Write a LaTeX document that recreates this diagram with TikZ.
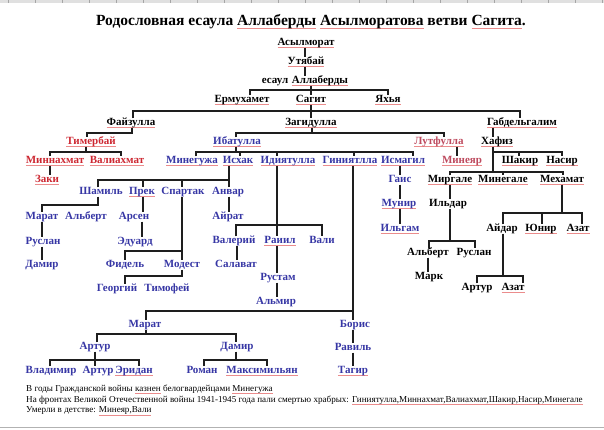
\documentclass[tikz,border=0pt]{standalone}
\usepackage{fontspec}
\setmainfont{Liberation Serif}
\definecolor{nblue}{RGB}{55,55,165}
\definecolor{nred}{RGB}{205,40,50}
\definecolor{npink}{RGB}{190,75,95}
\definecolor{spell}{RGB}{235,140,140}
\definecolor{lineblk}{RGB}{30,30,30}
\newcommand\sq[1]{\setbox0\hbox{#1}\rlap{\color{spell}\rule[-2.4pt]{\wd0}{0.5pt}}\box0\relax}
\tikzset{
  nm/.style={font=\bfseries\fontsize{11}{12}\selectfont, inner sep=0pt, text height=7pt, text depth=2pt},
  bk/.style={nm, text=black},
  bl/.style={nm, text=nblue},
  rd/.style={nm, text=nred},
  pk/.style={nm, text=npink},
  ln/.style={draw=lineblk, line width=1.3pt},
  foot/.style={anchor=west, inner sep=0pt, font=\fontsize{9.1}{10}\selectfont},
}
\begin{document}
\begin{tikzpicture}[x=1pt,y=-1pt]
\fill[white] (0,0) rectangle (604,429);
\useasboundingbox (0,0) rectangle (604,429);
% frame bits
\fill[black!12] (0,0) rectangle (604,3);
\foreach \i in {0,...,22} \draw[black!35] (27*\i+8,0) -- ++(0,3);
\draw[black!30, line width=1pt] (0,427.5) -- (604,427.5);

% title
\node[font=\bfseries\fontsize{15.5}{18}\selectfont, inner sep=0pt] (title) at (311,22)
  {Родословная есаула \sq{Аллаберды} \sq{Асылморатова} ветви \sq{Сагита}.};

% black upper nodes
\node[bk] (asy) at (306,43) {\sq{Асылморат}};
\node[bk] (uty) at (306,62) {\sq{Утябай}};
\node[bk] (esa) at (275,81) {есаул};
\node[bk] (all) at (320,81) {\sq{Аллаберды}};
\node[bk] (erm) at (242,100) {\sq{Ермухамет}};
\node[bk] (sag) at (311,100) {\sq{Сагит}};
\node[bk] (yah) at (388,100) {\sq{Яхья}};
\node[bk] (fai) at (131,123) {\sq{Файзулла}};
\node[bk] (zag) at (311,123) {\sq{Загидулла}};
\node[bk] (gab) at (522,123) {\sq{Габдельгалим}};
% red
\node[rd] (tim) at (91,142) {\sq{Тимербай}};
\node[rd] (min) at (55,161) {\sq{Миннахмат}};
\node[rd] (val) at (117,161) {\sq{Валиахмат}};
\node[rd] (zak) at (47,180) {\sq{Заки}};
% pink
\node[pk] (lut) at (439,142) {\sq{Лутфулла}};
\node[pk] (mny) at (462,161) {\sq{Минеяр}};
% black right
\node[bk] (haf) at (497,142) {\sq{Хафиз}};
\node[bk] (sha) at (520,161) {\sq{Шакир}};
\node[bk] (nas) at (562,161) {\sq{Насир}};
\node[bk] (mrg) at (450,180) {\sq{Миргале}};
\node[bk] (mng) at (503,180) {\sq{Минегале}};
\node[bk] (meh) at (562,180) {\sq{Мехамат}};
\node[bk] (ild) at (448,204) {Ильдар};
\node[bk] (alb2) at (428,253) {Альберт};
\node[bk] (rus2) at (474,253) {Руслан};
\node[bk] (mar2) at (429,277) {Марк};
\node[bk] (ayd) at (502,229) {Айдар};
\node[bk] (yun) at (541,229) {\sq{Юнир}};
\node[bk] (aza) at (578,229) {\sq{Азат}};
\node[bk] (art2) at (477,288) {Артур};
\node[bk] (aza2) at (513,288) {\sq{Азат}};
% blue
\node[bl] (iba) at (237,142) {\sq{Ибатулла}};
\node[bl] (mgz) at (192,161) {\sq{Минегужа}};
\node[bl] (isx) at (238,161) {\sq{Исхак}};
\node[bl] (idi) at (288,161) {\sq{Идиятулла}};
\node[bl] (gin) at (350,161) {\sq{Гиниятлла}};
\node[bl] (ism) at (403,161) {\sq{Исмагил}};
\node[bl] (gai) at (400,180) {Гаис};
\node[bl] (mun) at (399,204) {\sq{Мунир}};
\node[bl] (ilg) at (400,229) {\sq{Ильгам}};
\node[bl] (sam) at (101,192) {Шамиль};
\node[bl] (pre) at (142,192) {\sq{Прек}};
\node[bl] (spa) at (183,192) {Спартак};
\node[bl] (anv) at (228,192) {Анвар};
\node[bl] (mar) at (42,217) {Марат};
\node[bl] (alb) at (86,217) {Альберт};
\node[bl] (ars) at (134,217) {Арсен};
\node[bl] (ayr) at (228,217) {Айрат};
\node[bl] (rus) at (43,242) {Руслан};
\node[bl] (edu) at (135,242) {Эдуард};
\node[bl] (dam) at (42,265) {Дамир};
\node[bl] (fid) at (125,265) {Фидель};
\node[bl] (mod) at (182,265) {Модест};
\node[bl] (geo) at (117,289) {Георгий};
\node[bl] (tmf) at (167,289) {Тимофей};
\node[bl] (vlr) at (234,241) {Валерий};
\node[bl] (rai) at (280,241) {\sq{Раиил}};
\node[bl] (vli) at (322,241) {Вали};
\node[bl] (sal) at (236,265) {Салават};
\node[bl] (rst) at (278,278) {Рустам};
\node[bl] (alm) at (276,302) {Альмир};
\node[bl] (mrt) at (145,325) {Марат};
\node[bl] (bor) at (355,325) {Борис};
\node[bl] (art) at (95,347) {Артур};
\node[bl] (dmr) at (237,347) {Дамир};
\node[bl] (rav) at (353,348) {Равиль};
\node[bl] (vla) at (51,371) {Владимир};
\node[bl] (ar3) at (98,371) {Артур};
\node[bl] (eri) at (134,371) {\sq{Эридан}};
\node[bl] (rom) at (202,371) {Роман};
\node[bl] (max) at (262,371) {\sq{Максимильян}};
\node[bl] (tag) at (353,371) {\sq{Тагир}};

% connectors
\draw[ln] (asy.south -| 305,0) -- (uty.north -| 305,0);
\draw[ln] (uty.south -| 305,0) -- (all.north -| 305,0);
\draw[ln] (all.south -| 311,0) -- (sag.north -| 311,0);
\draw[ln] (erm.north -| 250,0) -- (250,90) -- (388,90) -- (yah.north -| 388,0);
\draw[ln] (sag.south -| 311,0) -- (zag.north -| 311,0);
\draw[ln] (fai.north -| 133,0) -- (133,111) -- (520,111) -- (gab.north -| 520,0);
\draw[ln] (fai.south -| 132,0) -- (132,133) -- (87,133) -- (tim.north -| 87,0);
\draw[ln] (tim.south -| 86,0) -- (86,152);
\draw[ln] (min.north -| 50,0) -- (50,152) -- (121,152) -- (val.north -| 121,0);
\draw[ln] (min.south -| 50,0) -- (zak.north -| 50,0);
\draw[ln] (zag.south -| 312,0) -- (312,133);
\draw[ln] (iba.north -| 236,0) -- (236,133) -- (444,133) -- (lut.north -| 444,0);
\draw[ln] (iba.south -| 236,0) -- (236,152);
\draw[ln] (mgz.north -| 196,0) -- (196,152) -- (413,152) -- (ism.north -| 413,0);
\draw[ln] (240,152) -- (isx.north -| 240,0);
\draw[ln] (277,152) -- (idi.north -| 277,0);
\draw[ln] (354,152) -- (gin.north -| 354,0);
\draw[ln] (isx.south -| 229,0) -- (229,180);
\draw[ln] (sam.north -| 98,0) -- (98,180) -- (229,180) -- (anv.north -| 229,0);
\draw[ln] (143,180) -- (pre.north -| 143,0);
\draw[ln] (182,180) -- (spa.north -| 182,0);
\draw[ln] (sam.south -| 98,0) -- (98,205) -- (42,205) -- (mar.north -| 42,0);
\draw[ln] (mar.south -| 42,0) -- (rus.north -| 42,0);
\draw[ln] (rus.south -| 42,0) -- (dam.north -| 42,0);
\draw[ln] (pre.south -| 143,0) -- (ars.north -| 143,0);
\draw[ln] (ars.south -| 142,0) -- (edu.north -| 142,0);
\draw[ln] (spa.south -| 182,0) -- (mod.north -| 182,0);
\draw[ln] (182,251) -- (125,251) -- (fid.north -| 125,0);
\draw[ln] (mod.south -| 182,0) -- (182,276) -- (125,276) -- (geo.north -| 125,0);
\draw[ln] (anv.south -| 229,0) -- (ayr.north -| 229,0);
\draw[ln] (idi.south -| 277,0) -- (rai.north -| 277,0);
\draw[ln] (vlr.north -| 236,0) -- (236,225) -- (322,225) -- (vli.north -| 322,0);
\draw[ln] (vlr.south -| 237,0) -- (sal.north -| 237,0);
\draw[ln] (rai.south -| 277,0) -- (rst.north -| 277,0);
\draw[ln] (rst.south -| 277,0) -- (alm.north -| 277,0);
\draw[ln] (gin.south -| 353,0) -- (bor.north -| 353,0);
\draw[ln] (353,311) -- (146,311) -- (mrt.north -| 146,0);
\draw[ln] (bor.south -| 353,0) -- (rav.north -| 353,0);
\draw[ln] (rav.south -| 353,0) -- (tag.north -| 353,0);
\draw[ln] (mrt.south -| 146,0) -- (146,334);
\draw[ln] (art.north -| 97,0) -- (97,334) -- (236,334) -- (dmr.north -| 236,0);
\draw[ln] (art.south -| 95,0) -- (ar3.north -| 95,0);
\draw[ln] (vla.north -| 50,0) -- (50,360) -- (139,360) -- (eri.north -| 139,0);
\draw[ln] (dmr.south -| 236,0) -- (236,360);
\draw[ln] (rom.north -| 204,0) -- (204,360) -- (267,360) -- (max.north -| 267,0);
\draw[ln] (ism.south -| 400,0) -- (gai.north -| 400,0);
\draw[ln] (gai.south -| 400,0) -- (mun.north -| 400,0);
\draw[ln] (mun.south -| 400,0) -- (ilg.north -| 400,0);
\draw[ln] (lut.south -| 457,0) -- (mny.north -| 457,0);
\draw[ln] (gab.south -| 493,0) -- (haf.north -| 493,0);
\draw[ln] (haf.south -| 493,0) -- (493,172);
\draw[ln] (493,152) -- (562,152) -- (nas.north -| 562,0);
\draw[ln] (519,152) -- (sha.north -| 519,0);
\draw[ln] (mrg.north -| 450,0) -- (450,172) -- (563,172) -- (meh.north -| 563,0);
\draw[ln] (503,172) -- (mng.north -| 503,0);
\draw[ln] (mrg.south -| 450,0) -- (ild.north -| 450,0);
\draw[ln] (ild.south -| 450,0) -- (450,241);
\draw[ln] (alb2.north -| 429,0) -- (429,241) -- (475,241) -- (rus2.north -| 475,0);
\draw[ln] (alb2.south -| 428,0) -- (mar2.north -| 428,0);
\draw[ln] (meh.south -| 562,0) -- (562,213);
\draw[ln] (ayd.north -| 503,0) -- (503,213) -- (582,213) -- (aza.north -| 582,0);
\draw[ln] (542,213) -- (yun.north -| 542,0);
\draw[ln] (ayd.south -| 503,0) -- (503,276);
\draw[ln] (art2.north -| 477,0) -- (477,276) -- (523,276) -- (aza2.north -| 523,0);

% footer
\node[foot] (f1) at (26,389) {В годы Гражданской войны \sq{казнен} белогвардейцами \sq{Минегужа}};
\node[foot] (f2) at (26,400) {На фронтах Великой Отечественной войны 1941-1945 года пали смертью храбрых: \sq{Гиниятулла,Миннахмат,Валиахмат,Шакир,Насир,Минегале}};
\node[foot] (f3) at (26,411) {Умерли в детстве: \sq{Минеяр,Вали}};
\end{tikzpicture}
\end{document}
